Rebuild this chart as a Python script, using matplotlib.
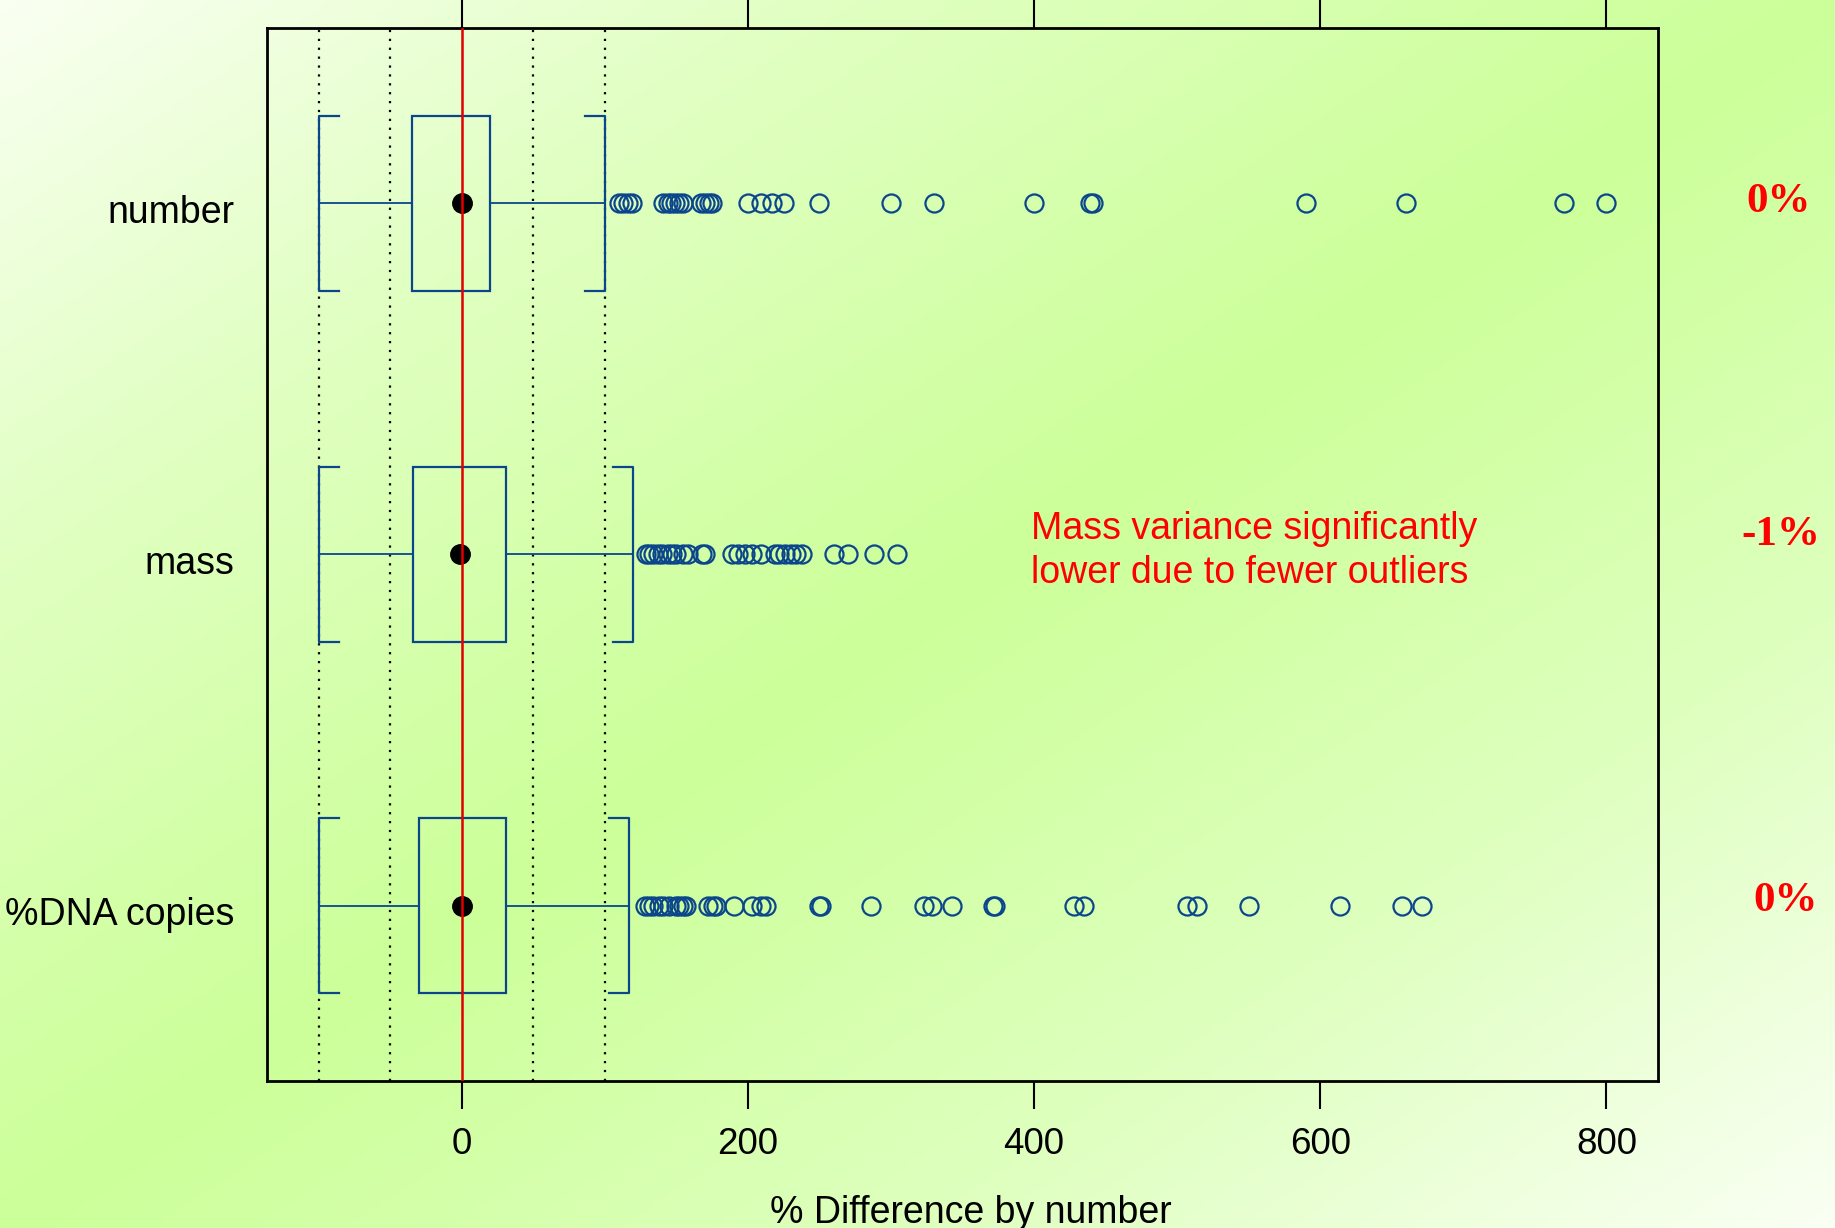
import numpy as np
import matplotlib
matplotlib.use("Agg")
import matplotlib.pyplot as plt
from matplotlib.patches import Rectangle
import matplotlib.transforms as mtransforms

# ---------------- data ----------------
categories = ["number", "mass", "%DNA copies"]
positions_y = [3, 2, 1]
q1 = [-35, -34, -30]
median = [0, -1, 0]
q3 = [20, 31, 31]
whisker_lo = [-100, -100, -100]
whisker_hi = [100, 120, 117]
number_out = [110, 113, 116, 119, 141, 144, 146, 149, 152, 155, 167, 170, 173, 175,
              200, 209, 217, 225, 250, 300, 330, 400, 439, 441, 590, 660, 770, 800]
mass_out = [129, 131, 134, 137, 140, 144, 147, 150, 155, 158, 168, 170,
            189, 193, 198, 203, 209, 219, 222, 226, 230, 234, 238, 260, 270, 288, 304]
dna_out = [128, 131, 134, 138, 141, 145, 150, 152, 155, 157, 172, 176, 178, 190,
           203, 209, 213, 250, 251, 286, 323, 329, 343, 371, 373, 428, 435,
           507, 514, 550, 614, 657, 671]
outliers = [number_out, mass_out, dna_out]
pct_labels = ["0%", "-1%", "0%"]
ref_lines = [-100, -50, 50, 100]
xticks = [0, 200, 400, 600, 800]
annotation = "Mass variance significantly\nlower due to fewer outliers"
xlabel = "% Difference by number"

# ---------------- figure ----------------
W, H, DPI = 1835, 1228, 100
fig = plt.figure(figsize=(W / DPI, H / DPI), dpi=DPI)

# background gradient (diagonal white -> green -> pale)
bg = fig.add_axes([0, 0, 1, 1], zorder=-10)
gx = np.linspace(0, 1, 400)
gy = np.linspace(0, 1, 300)
X, Y = np.meshgrid(gx, gy)
t = (X + Y) / 2.0
stops_t = [0.0, 0.22, 0.5, 0.75, 1.0]
stops_c = np.array([[250, 255, 242], [225, 255, 195], [204, 255, 153],
                    [222, 255, 190], [250, 255, 244]]) / 255.0
img = np.zeros(t.shape + (3,))
for k in range(3):
    img[..., k] = np.interp(t, stops_t, stops_c[:, k])
bg.imshow(img, extent=[0, 1, 0, 1], aspect="auto", origin="upper")
bg.set_axis_off()

ax = fig.add_axes([267 / W, 1 - 1081 / H, (1658 - 267) / W, (1081 - 28) / H])
ax.set_facecolor("none")

blue = "#0B468C"
box_h = 0.25
stub = 14
pct_dx = [0, 2, 5]
pct_dy = [0.003, 0.055, 0.012]

for i, y in enumerate(positions_y):
    # box
    ax.add_patch(Rectangle((q1[i], y - box_h), q3[i] - q1[i], 2 * box_h,
                           fill=False, edgecolor=blue, linewidth=1.6, zorder=3))
    # whiskers
    ax.plot([whisker_lo[i], q1[i]], [y, y], color=blue, lw=1.3, zorder=3)
    ax.plot([q3[i], whisker_hi[i]], [y, y], color=blue, lw=1.3, zorder=3)
    # bracket caps
    lo, hi = whisker_lo[i], whisker_hi[i]
    ax.plot([lo + stub, lo, lo, lo + stub], [y + box_h, y + box_h, y - box_h, y - box_h],
            color=blue, lw=1.6, zorder=3)
    ax.plot([hi - stub, hi, hi, hi - stub], [y + box_h, y + box_h, y - box_h, y - box_h],
            color=blue, lw=1.6, zorder=3)
    # outliers
    ax.plot(outliers[i], [y] * len(outliers[i]), linestyle="none", marker="o",
            markersize=13, markerfacecolor="none", markeredgecolor=blue,
            markeredgewidth=1.6, zorder=3)
    # median dot
    ax.plot([median[i]], [y], marker="o", markersize=14, color="black", zorder=4)
    # right-side percentage label
    ax.text(920 + pct_dx[i], y + pct_dy[i], pct_labels[i], color="red",
            fontsize=31, fontweight="bold", family="Liberation Serif",
            ha="center", va="center", clip_on=False)

for v in ref_lines:
    ax.axvline(v, color="black", linestyle=(0, (1, 3)), lw=1.6, zorder=2)
ax.axvline(0, color="#E00000", lw=1.8, zorder=5)

ax.text(398, 2.01, annotation, color="red", fontsize=27, family="Liberation Sans",
        ha="left", va="center", linespacing=1.27)

ax.set_xlim(-136, 836)
ax.set_ylim(0.5, 3.5)
ax.set_xticks(xticks)
ax.set_xticklabels([str(v) for v in xticks], fontsize=26.5, family="Liberation Sans")
ax.tick_params(axis="x", direction="out", length=20, width=1.5, top=True,
               labeltop=False, pad=13)
ax.set_yticks(positions_y)
ax.set_yticklabels(categories, fontsize=27, family="Liberation Sans")
ax.tick_params(axis="y", length=0, pad=23.5)
offset = mtransforms.ScaledTranslation(0, -6 / DPI, fig.dpi_scale_trans)
for lab in ax.get_yticklabels():
    lab.set_transform(lab.get_transform() + offset)
ax.set_xlabel(xlabel, fontsize=27, family="Liberation Sans", labelpad=24, x=0.506)
for s in ax.spines.values():
    s.set_linewidth(2)
    s.set_color("black")

fig.savefig("out.png", dpi=DPI)
